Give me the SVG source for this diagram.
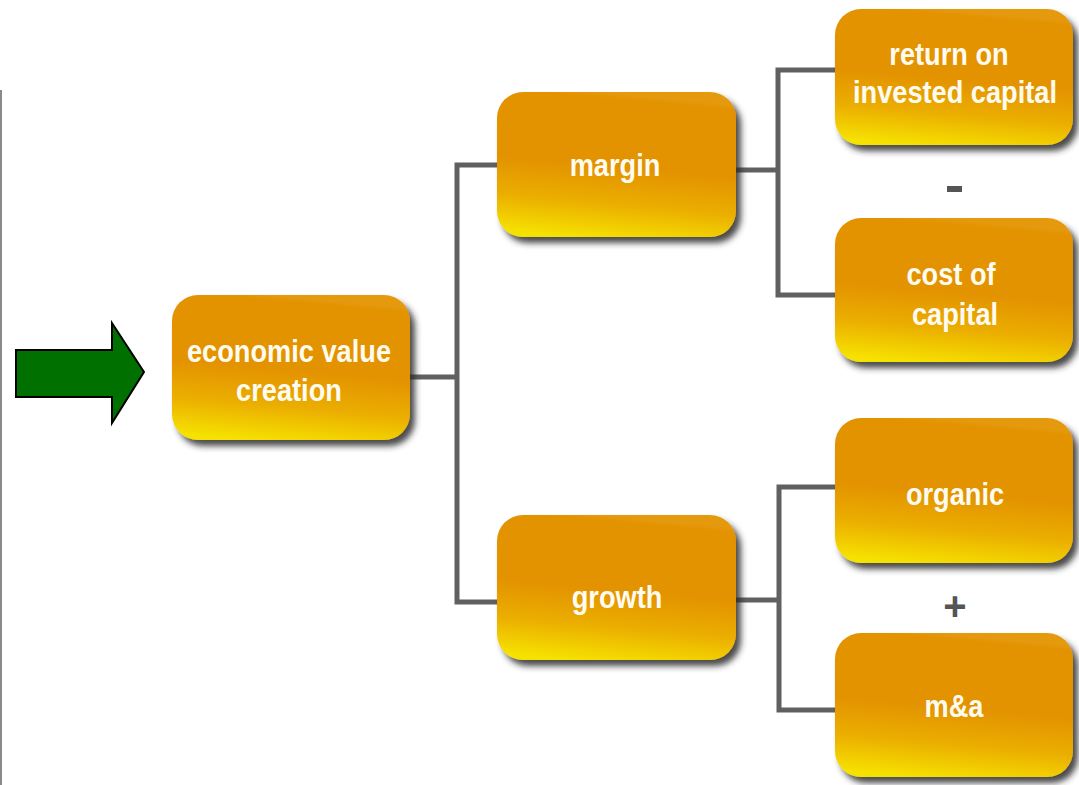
<svg xmlns="http://www.w3.org/2000/svg" width="1079" height="785" viewBox="0 0 1079 785">
<defs>
<linearGradient id="boxg" x1="0.45" y1="0" x2="0.3" y2="1">
<stop offset="0" stop-color="#E59A10"/>
<stop offset="0.04" stop-color="#E39300"/>
<stop offset="0.5" stop-color="#E39300"/>
<stop offset="0.75" stop-color="#EBAE06"/>
<stop offset="1" stop-color="#F6E200"/>
</linearGradient>
<filter id="shadow" x="-10%" y="-10%" width="125%" height="130%">
<feDropShadow dx="5" dy="6" stdDeviation="3" flood-color="#2a2a2a" flood-opacity="0.85"/>
</filter>
</defs>
<style>
.box{fill:url(#boxg);filter:url(#shadow);}
.lbl{font-family:"Liberation Sans","DejaVu Sans",sans-serif;font-size:32px;font-weight:bold;fill:#FFFBF0;text-anchor:middle;}
.op{font-family:"Liberation Sans","DejaVu Sans",sans-serif;font-size:40px;font-weight:bold;fill:#555555;text-anchor:middle;}
.conn{fill:none;stroke:#606060;stroke-width:5;}
</style>
<rect width="1079" height="785" fill="#FFFFFF"/>
<rect x="0" y="90" width="2" height="695" fill="#8a8a8a"/>
<g id="arrow">
<polygon points="16,350 112,350 112,323 144,372 112,423 112,397 16,397" fill="#007000" stroke="#000000" stroke-width="2"/>
</g>
<g id="connectors">
<path class="conn" d="M410,377 H457 M499,165 H457 V602 H499"/>
<path class="conn" d="M736,170 H778 M835,70 H778 V295 H835"/>
<path class="conn" d="M736,600 H779 M835,487 H779 V710 H835"/>
</g>
<g id="evc">
<rect class="box" x="172" y="295" width="238" height="145" rx="26"/>
<text class="lbl" transform="translate(289,362) scale(0.85,1)">economic value</text>
<text class="lbl" transform="translate(289,401) scale(0.85,1)">creation</text>
</g>
<g id="margin">
<rect class="box" x="497" y="92" width="239" height="145" rx="26"/>
<text class="lbl" transform="translate(615,176) scale(0.85,1)">margin</text>
</g>
<g id="growth">
<rect class="box" x="497" y="515" width="239" height="145" rx="26"/>
<text class="lbl" transform="translate(617,608) scale(0.85,1)">growth</text>
</g>
<g id="roic">
<rect class="box" x="835" y="9" width="238" height="136" rx="26"/>
<text class="lbl" transform="translate(949,65) scale(0.85,1)">return on</text>
<text class="lbl" transform="translate(955,103) scale(0.85,1)">invested capital</text>
</g>
<g id="cost">
<rect class="box" x="835" y="218" width="238" height="144" rx="26"/>
<text class="lbl" transform="translate(951,285) scale(0.85,1)">cost of</text>
<text class="lbl" transform="translate(955,325) scale(0.85,1)">capital</text>
</g>
<g id="organic">
<rect class="box" x="835" y="418" width="238" height="145" rx="26"/>
<text class="lbl" transform="translate(955,505) scale(0.85,1)">organic</text>
</g>
<g id="ma">
<rect class="box" x="835" y="633" width="238" height="144" rx="26"/>
<text class="lbl" transform="translate(954,717) scale(0.85,1)">m&amp;a</text>
</g>
<g id="operators">
<rect x="947" y="186" width="15" height="6" fill="#555555"/>
<text class="op" x="955" y="620">+</text>
</g>
</svg>
